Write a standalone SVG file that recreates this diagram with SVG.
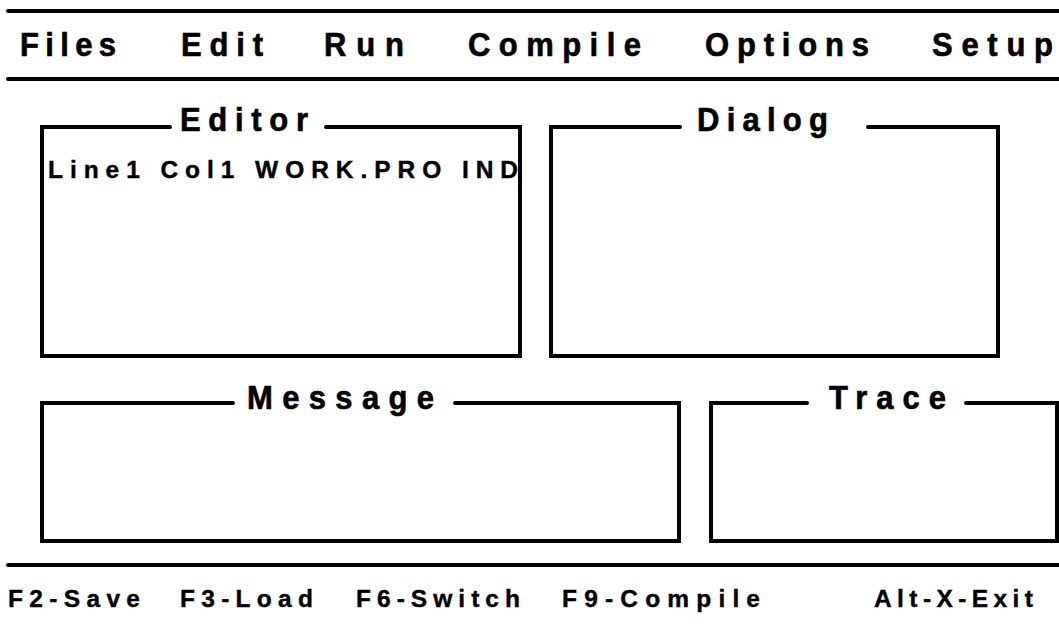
<svg xmlns="http://www.w3.org/2000/svg" width="1059" height="629" viewBox="0 0 1059 629">
  <style>
    .rule { stroke: #000; stroke-width: 4; fill: none; stroke-linecap: round; }
    .frame { stroke: #000; stroke-width: 4; fill: none; stroke-linecap: round; stroke-linejoin: miter; }
    .big { font-family: "Liberation Sans", Arial, sans-serif; font-weight: bold; font-size: 31px; fill: #000; stroke: #000; stroke-width: 0.6; }
    .small { font-family: "Liberation Sans", Arial, sans-serif; font-weight: bold; font-size: 24.5px; fill: #000; stroke: #000; stroke-width: 0.4; }
  </style>
  <rect width="1059" height="629" fill="#fff"/>

  <!-- menu bar (headings are slightly stretched vertically) -->
  <g id="menu-bar">
    <line class="rule" x1="8" y1="11" x2="1059" y2="11"/>
    <text class="big" transform="matrix(1 0 0 1.07 20 56)" textLength="96" lengthAdjust="spacing">Files</text>
    <text class="big" transform="matrix(1 0 0 1.07 181 56)" textLength="82" lengthAdjust="spacing">Edit</text>
    <text class="big" transform="matrix(1 0 0 1.07 324 56)" textLength="80" lengthAdjust="spacing">Run</text>
    <text class="big" transform="matrix(1 0 0 1.07 468 56)" textLength="173" lengthAdjust="spacing">Compile</text>
    <text class="big" transform="matrix(1 0 0 1.07 705 56)" textLength="164" lengthAdjust="spacing">Options</text>
    <text class="big" transform="matrix(1 0 0 1.07 932 56)" textLength="121" lengthAdjust="spacing">Setup</text>
    <line class="rule" x1="8" y1="79" x2="1059" y2="79"/>
  </g>

  <!-- editor window -->
  <g id="editor">
    <path class="frame" d="M170,127 H42 V356 H520 V127 H326"/>
    <text class="big" transform="matrix(1 0 0 1.07 180 131)" textLength="128" lengthAdjust="spacing">Editor</text>
    <text class="small" x="48" y="178" textLength="470" lengthAdjust="spacing">Line1 Col1 WORK.PRO IND</text>
  </g>

  <!-- dialog window -->
  <g id="dialog">
    <path class="frame" d="M680,127 H551 V356 H998 V127 H868"/>
    <text class="big" transform="matrix(1 0 0 1.07 697 131)" textLength="131" lengthAdjust="spacing">Dialog</text>
  </g>

  <!-- message window -->
  <g id="message">
    <path class="frame" d="M233,403 H42 V541 H679 V403 H455"/>
    <text class="big" transform="matrix(1 0 0 1.07 247 409)" textLength="187" lengthAdjust="spacing">Message</text>
  </g>

  <!-- trace window -->
  <g id="trace">
    <path class="frame" d="M807,403 H711 V541 H1057 V403 H966"/>
    <text class="big" transform="matrix(1 0 0 1.07 829 409)" textLength="117" lengthAdjust="spacing">Trace</text>
  </g>

  <!-- function key bar -->
  <g id="status-bar">
    <line class="rule" x1="8" y1="565" x2="1059" y2="565"/>
    <text class="small" x="8" y="607" textLength="132" lengthAdjust="spacing">F2-Save</text>
    <text class="small" x="180" y="607" textLength="133" lengthAdjust="spacing">F3-Load</text>
    <text class="small" x="356" y="607" textLength="164" lengthAdjust="spacing">F6-Switch</text>
    <text class="small" x="562" y="607" textLength="198" lengthAdjust="spacing">F9-Compile</text>
    <text class="small" x="874" y="607" textLength="159" lengthAdjust="spacing">Alt-X-Exit</text>
  </g>
</svg>
